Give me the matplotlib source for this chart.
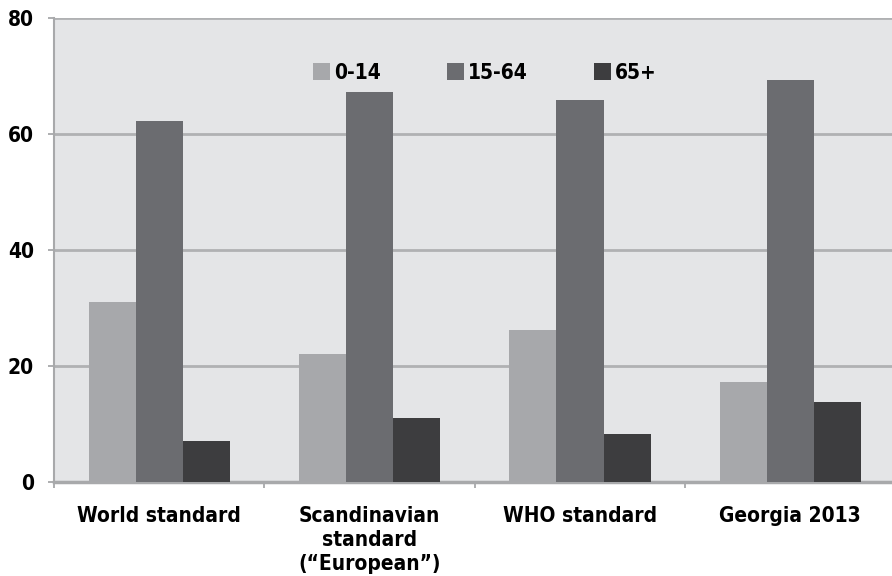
import matplotlib
matplotlib.use("Agg")
import matplotlib.pyplot as plt
from matplotlib import font_manager
import numpy as np

categories = ["World standard", "Scandinavian\nstandard\n(\u201cEuropean\u201d)", "WHO standard", "Georgia 2013"]
series_names = ["0-14", "15-64", "65+"]
age_0_14 = [31.0, 22.1, 26.2, 17.2]
age_15_64 = [62.2, 67.2, 65.9, 69.3]
age_65_plus = [7.1, 11.0, 8.3, 13.8]
y_ticks = [0, 20, 40, 60, 80]

colors = ["#a7a8ab", "#6b6c70", "#3d3d3f"]

# prefer a condensed bold face when one is installed
fp = font_manager.FontProperties(family="DejaVu Sans", stretch="condensed", weight="bold")
path = font_manager.findfont(fp)
if "Condensed" in path:
    text_kw = dict(fontfamily="DejaVu Sans", fontstretch="condensed", fontweight="bold")
    size = 15
else:
    text_kw = dict(fontfamily="Liberation Sans", fontweight="bold")
    size = 14.5
prop = dict(family=text_kw["fontfamily"], weight="bold", size=size)
if "fontstretch" in text_kw:
    prop["stretch"] = "condensed"

fig = plt.figure(figsize=(8.92, 5.76), dpi=100)
ax = fig.add_axes([54 / 892, 94 / 576, 1 - 54 / 892 + 0.004, 464 / 576])
ax.set_facecolor("#e4e5e7")

x = np.arange(len(categories))
w = 0.224
for i, (vals, name) in enumerate(zip([age_0_14, age_15_64, age_65_plus], series_names)):
    ax.bar(x + (i - 1) * w, vals, width=w, color=colors[i], label=name, zorder=3)

ax.set_xlim(-0.5, len(categories) - 0.5)
ax.set_ylim(0, 80)
ax.set_yticks(y_ticks)
ax.set_yticklabels([str(t) for t in y_ticks], fontsize=size, **text_kw)
ax.yaxis.grid(True, color="#b0b1b3", linewidth=2, zorder=1)
ax.set_axisbelow(True)

# category boundaries carry the x tick marks; labels sit at category centres
ax.set_xticks(np.arange(-0.5, len(categories) - 0.4, 1.0))
ax.set_xticklabels([])
ax.set_xticks(x, minor=True)
ax.set_xticklabels(categories, minor=True, fontsize=size, linespacing=1.25, va="top", **text_kw)
ax.tick_params(axis="x", which="minor", length=0, pad=17)
ax.tick_params(axis="x", which="major", length=4.5, width=1.2, color="#a0a1a3")
ax.tick_params(axis="y", length=4.5, width=1.2, color="#a0a1a3", pad=10)

for side in ["top", "right"]:
    ax.spines[side].set_visible(False)
ax.spines["left"].set_color("#a8a9ab")
ax.spines["left"].set_linewidth(1.5)
ax.spines["bottom"].set_color("#a8a9ab")
ax.spines["bottom"].set_linewidth(2.5)

leg = ax.legend(loc="center", bbox_to_anchor=(0.512, 0.882), ncol=3, frameon=False,
                handlelength=0.8, handleheight=0.85, handletextpad=0.2, columnspacing=3.2,
                prop=prop)

fig.savefig("out.png", dpi=100)
